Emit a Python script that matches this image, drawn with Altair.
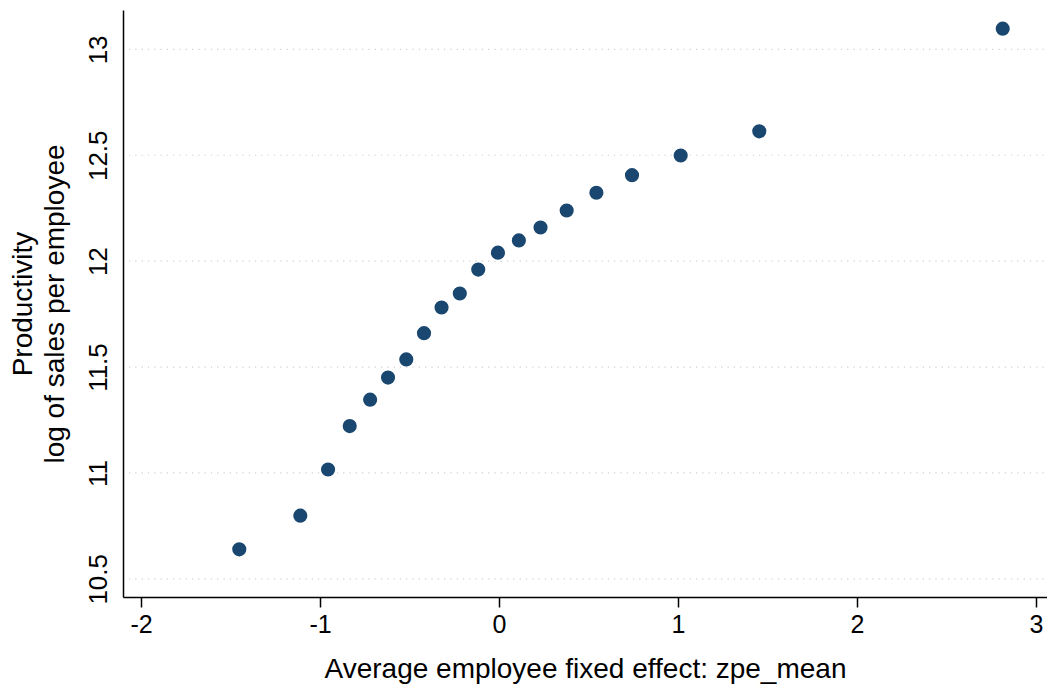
import altair as alt
import pandas as pd

# Binned scatter: average employee fixed effect vs productivity
zpe_mean = [-1.451, -1.110, -0.955, -0.834, -0.720, -0.620, -0.518, -0.419, -0.321, -0.219,
            -0.116, -0.006, 0.111, 0.232, 0.378, 0.544, 0.743, 1.015, 1.454, 2.814]
log_sales = [10.639, 10.798, 11.016, 11.221, 11.346, 11.450, 11.536, 11.660, 11.781, 11.847,
             11.960, 12.040, 12.098, 12.159, 12.239, 12.323, 12.406, 12.499, 12.613, 13.098]

x_ticks = [-2, -1, 0, 1, 2, 3]
y_ticks = [10.5, 11, 11.5, 12, 12.5, 13]

df = pd.DataFrame({"x": zpe_mean, "y": log_sales})
grid_df = pd.DataFrame({"y": y_ticks})

W, H = 924, 587
FONT = "Liberation Sans"

xscale = alt.Scale(domain=[-2.1006, 3.0614], nice=False, zero=False)
yscale = alt.Scale(domain=[10.414, 13.186], nice=False, zero=False)

y_axis = alt.Axis(
    values=y_ticks, labelExpr="datum.value + ''",
    title=["Productivity", "log of sales per employee"],
    grid=False, ticks=False, domainColor="black", domainWidth=1.5,
    labelAngle=-90, labelAlign="center", labelBaseline="bottom",
    labelFont=FONT, labelFontSize=26, labelColor="black", labelPadding=12,
    titleFont=FONT, titleFontSize=28, titleFontWeight="normal",
    titleColor="black", titlePadding=16, titleLineHeight=32,
)

x_axis = alt.Axis(
    values=x_ticks, labelExpr="datum.value + ''",
    title="Average employee fixed effect: zpe_mean",
    grid=False, domainColor="black", domainWidth=1.5,
    tickColor="black", tickWidth=1.5, tickSize=10,
    labelFont=FONT, labelFontSize=25, labelColor="black", labelPadding=5,
    titleFont=FONT, titleFontSize=28, titleFontWeight="normal",
    titleColor="black", titlePadding=18,
)

grid = alt.Chart(grid_df).mark_rule(
    color="#cfcfcf", strokeWidth=1.2, strokeDash=[1.2, 5.1]
).encode(
    y=alt.Y("y:Q", scale=yscale, axis=y_axis),
    x=alt.value(6),
    x2=alt.value(W),
)

points = alt.Chart(df).mark_circle(
    size=200, color="#1a476f", opacity=1
).encode(
    x=alt.X("x:Q", scale=xscale, axis=x_axis),
    y=alt.Y("y:Q", scale=yscale, axis=y_axis),
)

chart = alt.layer(grid, points).properties(
    width=W, height=H,
    background="white",
    autosize=alt.AutoSizeParams(type="none"),
    padding={"left": 115, "top": 2, "right": 0, "bottom": 89},
).configure_view(strokeWidth=0, stroke="transparent")

chart.save("out.html", embed_options={"renderer": "svg", "actions": False})
